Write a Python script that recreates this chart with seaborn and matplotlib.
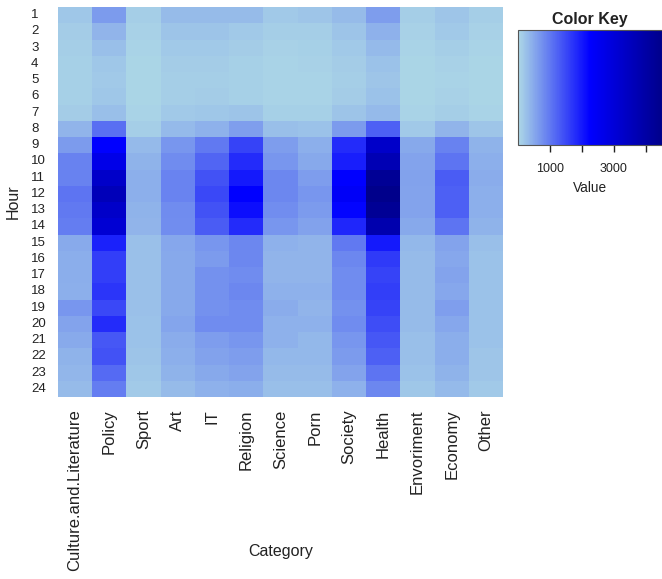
import numpy as np
import pandas as pd
import seaborn as sns
import matplotlib
matplotlib.use("Agg")
import matplotlib.pyplot as plt
from matplotlib.colors import LinearSegmentedColormap

categories = ["Culture.and.Literature", "Policy", "Sport", "Art", "IT", "Religion",
              "Science", "Porn", "Society", "Health", "Envoriment", "Economy", "Other"]
hours = [str(h) for h in range(1, 25)]

# hourly activity per category (rows = hours 1..24)
culture    = [180, 130, 120, 90, 90, 90, 130, 380, 650, 900, 900, 1050, 1000, 950,
              480, 450, 450, 430, 700, 550, 480, 400, 360, 300]
policy     = [650, 380, 280, 190, 170, 190, 280, 1100, 2250, 2700, 3300, 3600, 3300, 3100,
              1900, 1600, 1600, 1700, 1500, 1800, 1350, 1400, 1150, 950]
sport      = [120, 80, 60, 50, 40, 40, 60, 120, 330, 400, 430, 430, 400, 380,
              260, 250, 250, 250, 250, 230, 230, 220, 190, 150]
art        = [300, 220, 170, 130, 110, 120, 170, 330, 700, 800, 880, 880, 800, 780,
              520, 500, 500, 500, 500, 540, 470, 430, 390, 310]
it         = [300, 220, 170, 130, 110, 130, 190, 420, 1000, 1200, 1400, 1500, 1400, 1300,
              700, 650, 750, 750, 750, 800, 620, 580, 500, 420]
religion   = [300, 170, 130, 90, 90, 100, 220, 600, 1550, 1800, 2000, 2250, 2100, 1800,
              850, 850, 800, 850, 800, 800, 700, 620, 560, 440]
science    = [160, 120, 80, 60, 55, 60, 100, 280, 620, 700, 850, 850, 780, 700,
              420, 380, 380, 420, 460, 420, 420, 350, 310, 270]
porn       = [200, 120, 100, 80, 65, 70, 100, 240, 430, 500, 620, 700, 650, 580,
              380, 380, 380, 420, 380, 420, 350, 350, 310, 270]
society    = [300, 220, 170, 130, 110, 130, 220, 650, 1800, 1950, 2250, 2400, 2200, 1850,
              1000, 850, 800, 800, 750, 800, 700, 650, 560, 420]
health     = [620, 420, 330, 230, 200, 230, 330, 1250, 3300, 3700, 4300, 4500, 4300, 3800,
              2000, 1650, 1550, 1600, 1550, 1450, 1350, 1250, 1050, 850]
envoriment = [120, 80, 60, 50, 40, 50, 60, 160, 500, 550, 580, 550, 550, 500,
              350, 310, 310, 310, 310, 310, 270, 270, 230, 190]
economy    = [200, 160, 120, 80, 70, 80, 120, 380, 900, 1050, 1300, 1250, 1250, 1050,
              560, 520, 560, 520, 600, 520, 440, 440, 400, 320]
other      = [120, 80, 60, 50, 40, 50, 60, 200, 400, 430, 470, 430, 430, 400,
              280, 240, 240, 240, 240, 240, 240, 200, 200, 160]

key_ticks = [1000, 2000, 3000, 4000]
key_labels = ["1000", "", "3000", ""]

df = pd.DataFrame(
    np.column_stack([culture, policy, sport, art, it, religion, science, porn,
                     society, health, envoriment, economy, other]),
    index=hours, columns=categories)

sns.set_theme(style="white")
plt.rcParams["font.family"] = ["Liberation Sans", "DejaVu Sans"]

W, H = 662, 579
fig = plt.figure(figsize=(W / 100, H / 100), dpi=100)

def px_axes(x0, y0, x1, y1):
    return fig.add_axes([x0 / W, 1 - y1 / H, (x1 - x0) / W, (y1 - y0) / H])

cmap = LinearSegmentedColormap.from_list("key", ["lightblue", "blue", "darkblue"])

ax = px_axes(58, 7, 503, 397)
sns.heatmap(df, ax=ax, cmap=cmap, vmin=0, vmax=4500, cbar=False,
            xticklabels=True, yticklabels=True)
ax.tick_params(axis="x", labelsize=12, rotation=90, pad=9, length=0, colors="#222222")
ax.tick_params(axis="y", labelsize=9.5, rotation=0, pad=27 * 0.72, length=0, colors="#222222")
for lbl in ax.get_yticklabels():
    lbl.set_horizontalalignment("left")
ax.set_xlabel("Category", fontsize=11.5, color="#222222")
ax.set_ylabel("Hour", fontsize=11.5, color="#222222")
ax.xaxis.set_label_coords(0.5, -(544 - 397) / 390)
ax.yaxis.set_label_coords(-(58 - 21) / 445, 0.5)

cax = px_axes(518, 30, 662, 145)
cb = fig.colorbar(ax.collections[0], cax=cax, orientation="horizontal")
cb.outline.set_edgecolor("#555555")
cb.outline.set_linewidth(0.8)
cb.set_ticks(key_ticks)
cb.set_ticklabels(key_labels)
cax.xaxis.set_ticks_position("bottom")
cax.tick_params(axis="x", length=5, width=1, direction="out", labelsize=9,
                colors="#222222", pad=8)
cax.spines["bottom"].set_linewidth(1.5)
cax.set_xlabel("Value", fontsize=9.8, labelpad=4, color="#222222")
cax.set_title("Color Key", fontsize=11.5, fontweight="bold", pad=4, color="#222222")

fig.savefig("out.png", dpi=100)
